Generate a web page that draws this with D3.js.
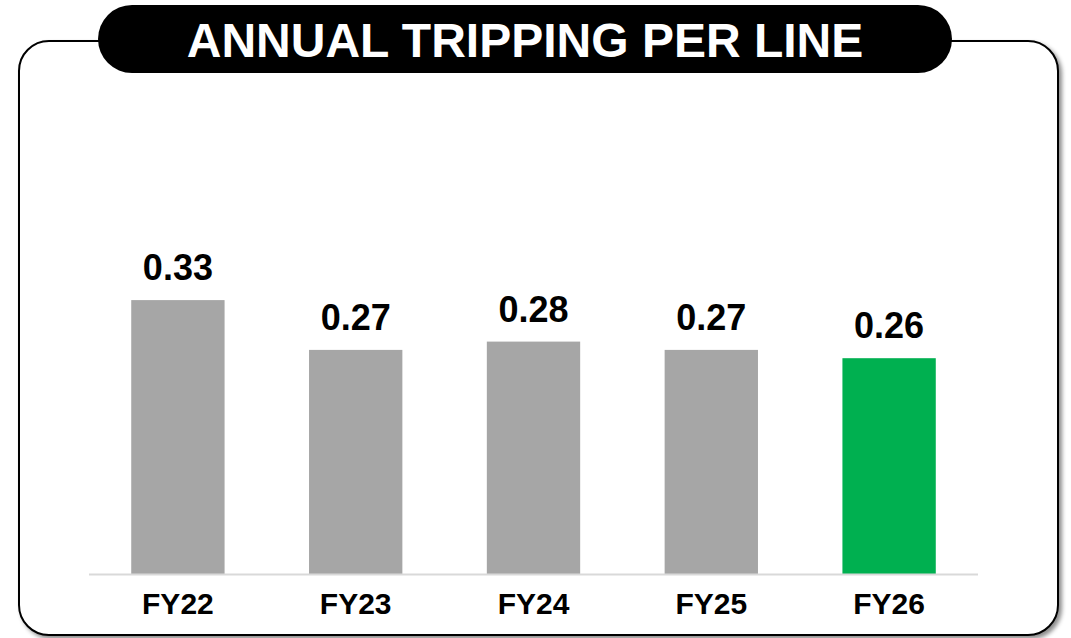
<!DOCTYPE html>
<html>
<head>
<meta charset="utf-8">
<script src="https://cdn.jsdelivr.net/npm/d3@7"></script>
<style>
  html, body { margin: 0; padding: 0; background: #fff; }
  svg { display: block; font-family: "Liberation Sans", Arial, sans-serif; }
</style>
</head>
<body>
<svg></svg>
<script>
const width = 1071;
const height = 638;

const titleText = "ANNUAL TRIPPING PER LINE";
const categories = ["FY22", "FY23", "FY24", "FY25", "FY26"];
const values = [0.33, 0.27, 0.28, 0.27, 0.26];
const barColors = ["#a6a6a6", "#a6a6a6", "#a6a6a6", "#a6a6a6", "#00b050"];

const svg = d3.select("svg").attr("width", width).attr("height", height);

// shadow for the frame
const defs = svg.append("defs");
const shadow = defs.append("filter").attr("id", "shadow")
    .attr("x", "-5%").attr("y", "-5%").attr("width", "110%").attr("height", "110%");
shadow.append("feDropShadow")
    .attr("dx", 3).attr("dy", 3).attr("stdDeviation", 2)
    .attr("flood-color", "#000").attr("flood-opacity", 0.45);

// frame
svg.append("rect")
    .attr("x", 19).attr("y", 41)
    .attr("width", 1039).attr("height", 594)
    .attr("rx", 30).attr("ry", 30)
    .attr("fill", "#fff")
    .attr("stroke", "#000")
    .attr("stroke-width", 2)
    .attr("filter", "url(#shadow)");

// title pill
svg.append("rect")
    .attr("x", 98).attr("y", 5)
    .attr("width", 854).attr("height", 68)
    .attr("rx", 34).attr("ry", 34)
    .attr("fill", "#000");

svg.append("text")
    .attr("x", 525).attr("y", 57)
    .attr("text-anchor", "middle")
    .attr("fill", "#fff")
    .style("font-size", "48px")
    .style("font-weight", "bold")
    .text(titleText);

// scales
const x = d3.scaleBand()
    .domain(categories)
    .range([89, 978])
    .paddingInner(0.475)
    .paddingOuter(0.2375);

const y = d3.scaleLinear()
    .domain([0, 0.4])
    .range([574, 242]);

const data = categories.map((c, i) => ({ cat: c, value: values[i], color: barColors[i] }));

svg.selectAll(".bar")
    .data(data)
    .enter().append("rect")
    .attr("class", "bar")
    .attr("x", d => x(d.cat))
    .attr("y", d => y(d.value))
    .attr("width", x.bandwidth())
    .attr("height", d => y(0) - y(d.value))
    .attr("fill", d => d.color);

// baseline
svg.append("line")
    .attr("x1", 89).attr("x2", 978)
    .attr("y1", y(0) + 0.5).attr("y2", y(0) + 0.5)
    .attr("stroke", "#d9d9d9")
    .attr("stroke-width", 2);

// value labels
svg.selectAll(".value")
    .data(data)
    .enter().append("text")
    .attr("class", "value")
    .attr("x", d => x(d.cat) + x.bandwidth() / 2)
    .attr("y", d => y(d.value) - 20)
    .attr("text-anchor", "middle")
    .style("font-size", "36px")
    .style("font-weight", "bold")
    .attr("fill", "#000")
    .text(d => d3.format(".2f")(d.value));

// category axis
const xAxis = svg.append("g")
    .attr("transform", `translate(0,${y(0)})`)
    .call(d3.axisBottom(x).tickSize(0).tickPadding(40));
xAxis.select(".domain").remove();
xAxis.selectAll("text")
    .attr("dy", 0)
    .style("font-family", "\"Liberation Sans\", Arial, sans-serif")
    .style("font-size", "30px")
    .style("font-weight", "bold")
    .attr("fill", "#000");
</script>
</body>
</html>
